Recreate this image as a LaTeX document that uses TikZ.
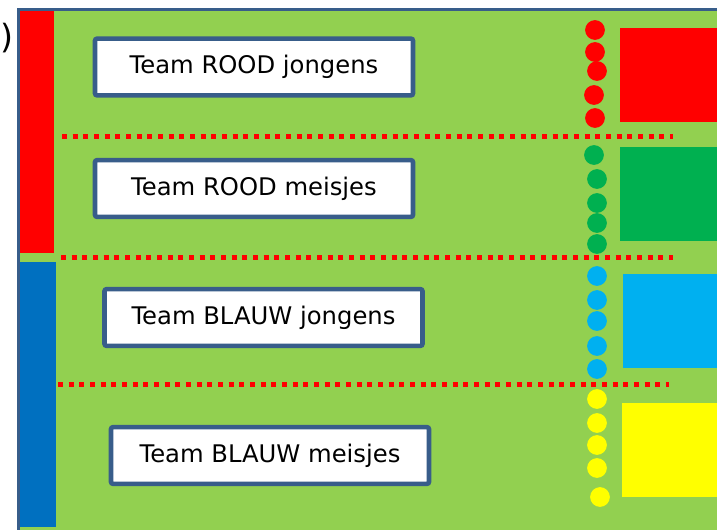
\documentclass[tikz,border=0pt]{standalone}
\usepackage{fontspec}
\setmainfont{DejaVu Sans}
\usepackage{tikz}

\definecolor{veld}{HTML}{92D050}
\definecolor{rand}{HTML}{385D8A}
\definecolor{roodkl}{HTML}{FF0000}
\definecolor{groenkl}{HTML}{00B050}
\definecolor{cyaankl}{HTML}{00B0F0}
\definecolor{geelkl}{HTML}{FFFF00}
\definecolor{blauwkl}{HTML}{0070C0}

\begin{document}
\begin{tikzpicture}[x=0.75pt,y=0.75pt,yscale=-1,xscale=1,
    teambox/.style={draw=rand,fill=white,line width=3.4pt,rounded corners=1.5pt,
      minimum width=238.5pt,minimum height=42.5pt,inner sep=0pt,font=\fontsize{18.2}{20}\selectfont},
    lijn/.style={draw=roodkl,line width=3.75pt,dash pattern=on 3.75pt off 4.25pt},
    pion/.style={radius=7.4pt}]
        \useasboundingbox (0,0) rectangle (717,529);

        %Shape: Rectangle [veld]
        \draw [draw=rand,fill=veld,line width=2.6pt] (18.5,9.5) rectangle (730,540) ;
        %Shape: Rectangle [rode balk]
        \fill [roodkl] (20,11) rectangle (54,253) ;
        %Shape: Rectangle [blauwe balk]
        \fill [blauwkl] (20,262) rectangle (56,527) ;

        %Shape: Rectangle [vakken rechts]
        \fill [roodkl] (620,28) rectangle (720,122) ;
        \fill [groenkl] (620,147) rectangle (720,241) ;
        \fill [cyaankl] (623,274) rectangle (720,368) ;
        \fill [geelkl] (622,403) rectangle (720,497) ;

        %Shape: Circle [pionnen]
        \foreach \cx/\cy in {595/30,595/52,597/71,594/95,595/118}
            \fill [roodkl,pion] (\cx,\cy) circle ;
        \foreach \cx/\cy in {594/155,597/179,597/203,597/223,597/244}
            \fill [groenkl,pion] (\cx,\cy) circle ;
        \foreach \cx/\cy in {597/276,597/300,597/321,597/346,597/369}
            \fill [cyaankl,pion] (\cx,\cy) circle ;
        \foreach \cx/\cy in {597/399,597/423,597/445,597/468,600/497}
            \fill [geelkl,pion] (\cx,\cy) circle ;

        %Straight Lines [scheidingen]
        \coordinate (s1a) at (62,136) ; \coordinate (s1b) at (673,136) ;
        \coordinate (s2a) at (61,257) ; \coordinate (s2b) at (673,257) ;
        \coordinate (s3a) at (58,384) ; \coordinate (s3b) at (669,384) ;
        \draw [lijn] (s1a) -- (s1b) ;
        \draw [lijn] (s2a) -- (s2b) ;
        \draw [lijn] (s3a) -- (s3b) ;

        % Text Node
        \node [teambox] (roodj) at (254,67) {Team ROOD jongens};
        % Text Node
        \node [teambox] (roodm) at (254,188.5) {Team ROOD meisjes};
        % Text Node
        \node [teambox] (blauwj) at (263.5,317.5) {Team BLAUW jongens};
        % Text Node
        \node [teambox] (blauwm) at (270,455.5) {Team BLAUW meisjes};
        % Text Node
        \node [anchor=west,inner sep=0pt,font=\fontsize{25}{27}\selectfont] (haak) at (0,38) {)};

    \end{tikzpicture}
\end{document}
